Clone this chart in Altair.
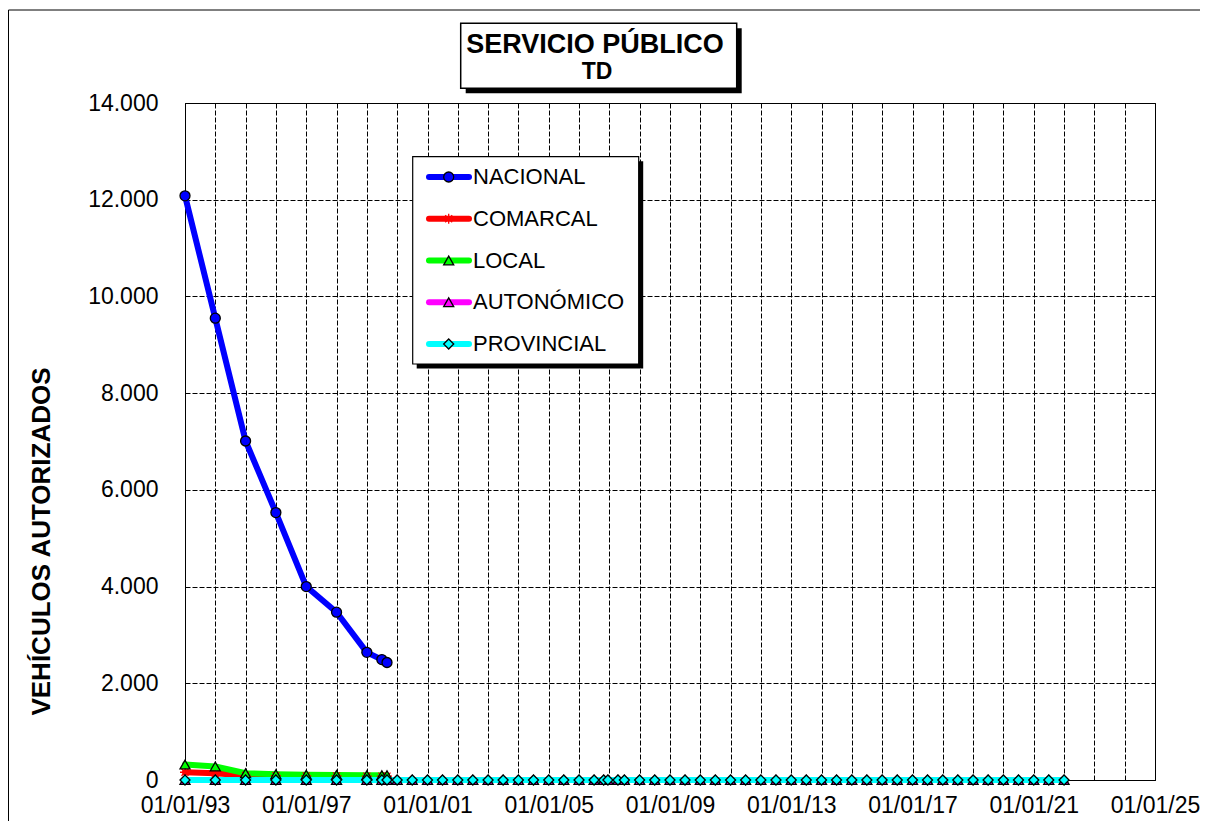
import altair as alt
import pandas as pd

FONT = "Liberation Sans"

series = ["NACIONAL", "COMARCAL", "LOCAL", "AUTONÓMICO", "PROVINCIAL"]
line_colors = ["#0000FF", "#FF0000", "#00FF00", "#FF00FF", "#00FFFF"]
marker_fill = ["#0000FF", "#FF0000", "#00FF00", "#FF00FF", "#00FFFF"]
marker_stroke = ["#000000", "#FF0000", "#000000", "#000000", "#000000"]
asterisk = "M-1,0L1,0M0,-1L0,1M-0.7,-0.7L0.7,0.7M-0.7,0.7L0.7,-0.7"
marker_shapes = ["circle", asterisk, "triangle-up", "triangle-up", "diamond"]

# first block of dates (all five series)
early_dates = ["1993-01-01", "1994-01-01", "1995-01-01", "1996-01-01", "1997-01-01",
               "1998-01-01", "1999-01-01", "1999-07-01", "1999-09-01"]
nacional = [12080, 9550, 7010, 5530, 4000, 3470, 2640, 2490, 2430]
comarcal = [160, 140, 95, 90, 85, 85, 80, 80, 80]
local = [320, 280, 140, 120, 110, 105, 100, 100, 100]

# full date list (AUTONÓMICO and PROVINCIAL continue)
late_dates = [
    "1993-01-01", "1994-01-01", "1995-01-01", "1996-01-01", "1997-01-01",
    "1998-01-01", "1999-01-01", "1999-07-01", "1999-09-01",
    "2000-01-01", "2000-07-01", "2001-01-01", "2001-07-01", "2002-01-01", "2002-07-01",
    "2003-01-01", "2003-07-01", "2004-01-01", "2004-07-01", "2005-01-01", "2005-07-01",
    "2006-01-01", "2006-07-01", "2006-10-25", "2006-12-15", "2007-04-15", "2007-07-01",
    "2008-01-01", "2008-07-01", "2009-01-01", "2009-07-01", "2010-01-01", "2010-07-01",
    "2011-01-01", "2011-07-01", "2012-01-01", "2012-07-01", "2013-01-01", "2013-07-01",
    "2014-01-01", "2014-07-01", "2015-01-01", "2015-07-01", "2016-01-01", "2016-07-01",
    "2017-01-01", "2017-07-01", "2018-01-01", "2018-07-01", "2019-01-01", "2019-07-01",
    "2020-01-01", "2020-07-01", "2021-01-01", "2021-07-01", "2022-01-01",
]
autonomico = [0, 0, 0, 0, 0, 0, 0, 0, 0,
              0, 0, 0, 0, 0, 0, 0, 0, 0, 0, 0, 0, 0, 0, 0, 0, 0, 0,
              0, 0, 0, 0, 0, 0, 0, 0, 0, 0, 0, 0, 0, 0, 0, 0, 0, 0,
              0, 0, 0, 0, 0, 0, 0, 0, 0, 0, 0]
provincial = [0, 0, 0, 0, 0, 0, 0, 0, 0,
              0, 0, 0, 0, 0, 0, 0, 0, 0, 0, 0, 0, 0, 0, 0, 0, 0, 0,
              0, 0, 0, 0, 0, 0, 0, 0, 0, 0, 0, 0, 0, 0, 0, 0, 0, 0,
              0, 0, 0, 0, 0, 0, 0, 0, 0, 0, 0]

tick_years = list(range(1993, 2026))
y_ticks = [0, 2000, 4000, 6000, 8000, 10000, 12000, 14000]

rows = []
for name, dates, vals in [
    ("NACIONAL", early_dates, nacional),
    ("COMARCAL", early_dates, comarcal),
    ("LOCAL", early_dates, local),
    ("AUTONÓMICO", late_dates, autonomico),
    ("PROVINCIAL", late_dates, provincial),
]:
    for d, v in zip(dates, vals):
        rows.append({"series": name, "date": d, "value": v})
df = pd.DataFrame(rows)

x_axis = alt.Axis(
    values=[alt.DateTime(year=y, month=1, date=1, utc=True) for y in tick_years],
    labelExpr="utcyear(datum.value) % 4 == 1 ? utcFormat(datum.value, '%d/%m/%y') : ''",
    labelOverlap=False, labelFlush=False, labelBound=False,
    grid=True, gridColor="#000000", gridDash=[5, 2], gridWidth=1, gridOpacity=1,
    ticks=False, domainColor="#000000", domainWidth=1,
    labelFont=FONT, labelFontSize=23, labelColor="#000000", labelPadding=14,
    title=None,
)
y_axis = alt.Axis(
    values=y_ticks,
    labelExpr="replace(format(datum.value, ','), ',', '.')",
    grid=True, gridColor="#000000", gridDash=[5, 2], gridWidth=1, gridOpacity=1,
    ticks=False, domainColor="#000000", domainWidth=1,
    labelFont=FONT, labelFontSize=23, labelColor="#000000", labelPadding=27,
    title="VEHÍCULOS  AUTORIZADOS", titleFont=FONT, titleFontSize=26, titleFontWeight="bold",
    titleColor="#000000", titleAngle=270, titleAlign="center", titleBaseline="middle",
    titleX=-144, titleY=438,
)

x_enc = alt.X("date:T", axis=x_axis, scale=alt.Scale(
    type="utc",
    domain=[alt.DateTime(year=1993, month=1, date=1, utc=True),
            alt.DateTime(year=2025, month=1, date=1, utc=True)]))
y_enc = alt.Y("value:Q", axis=y_axis, scale=alt.Scale(domain=[0, 14000], nice=False))
color_enc = alt.Color("series:N", scale=alt.Scale(domain=series, range=line_colors), legend=None)
fill_enc = alt.Fill("series:N", scale=alt.Scale(domain=series, range=marker_fill), legend=None)
stroke_enc = alt.Stroke("series:N", scale=alt.Scale(domain=series, range=marker_stroke), legend=None)
shape_enc = alt.Shape("series:N", scale=alt.Scale(domain=series, range=marker_shapes), legend=None)

base = alt.Chart(df)
lines = base.mark_line(strokeWidth=6, strokeCap="round", strokeJoin="round").encode(
    x=x_enc, y=y_enc, color=color_enc)
points = base.mark_point(filled=True, size=100, strokeWidth=1.3, opacity=1).encode(
    x=x_enc, y=y_enc, fill=fill_enc, stroke=stroke_enc, shape=shape_enc)
data_layer = alt.layer(lines, points)

one = pd.DataFrame({"k": [0]})


def box(x1, x2, y1, y2, fill, stroke=None, sw=0):
    kw = dict(fill=fill)
    if stroke:
        kw.update(stroke=stroke, strokeWidth=sw)
    return alt.Chart(one).mark_rect(**kw).encode(
        x=alt.value(x1), x2=alt.value(x2), y=alt.value(y1), y2=alt.value(y2))


frame_left = alt.Chart(one).mark_rule(color="#000000", strokeWidth=1).encode(
    x=alt.value(-176.5), y=alt.value(-93), y2=alt.value(900))
frame_top = alt.Chart(one).mark_rule(color="#000000", strokeWidth=1).encode(
    x=alt.value(-176.5), x2=alt.value(1100), y=alt.value(-93))

leg_df = pd.DataFrame({"series": series})
leg_y = alt.Y("series:N", scale=alt.Scale(type="point", domain=series, range=[74, 241], padding=0),
              axis=None)
leg_base = alt.Chart(leg_df)
leg_shadow = box(231.7, 458.2, 58.2, 265.5, "#000000")
leg_box = box(227.7, 453.7, 53.7, 261, "#FFFFFF", "#000000", 1.2)
leg_rules = leg_base.mark_rule(strokeWidth=6, strokeCap="round").encode(
    x=alt.value(244), x2=alt.value(284), y=leg_y, color=color_enc)
leg_points = leg_base.mark_point(filled=True, size=100, strokeWidth=1.3, opacity=1).encode(
    x=alt.value(263.7), y=leg_y, fill=fill_enc, stroke=stroke_enc, shape=shape_enc)
leg_text = leg_base.mark_text(align="left", baseline="middle", font=FONT, fontSize=22,
                              color="#000000").encode(
    x=alt.value(288), y=leg_y, text="series:N")

title_shadow = box(280.7, 556.7, -74.7, -9.7, "#000000")
title_box = box(275.7, 551.7, -79.7, -14.7, "#FFFFFF", "#000000", 1.5)
title_df = pd.DataFrame({"t": ["SERVICIO PÚBLICO"]})
sub_df = pd.DataFrame({"t": ["TD"]})
title_text = alt.Chart(title_df).mark_text(
    align="center", baseline="alphabetic", font=FONT, fontSize=27, fontWeight="bold",
    color="#000000").encode(x=alt.value(410), y=alt.value(-50), text="t:N")
sub_text = alt.Chart(sub_df).mark_text(
    align="center", baseline="alphabetic", font=FONT, fontSize=23, fontWeight="bold",
    color="#000000").encode(x=alt.value(412), y=alt.value(-24), text="t:N")

chart = alt.layer(
    data_layer, frame_left, frame_top, leg_shadow, leg_box, leg_rules, leg_points, leg_text,
    title_shadow, title_box, title_text, sub_text,
).resolve_scale(y="independent").properties(
    width=970, height=677,
    autosize=alt.AutoSizeParams(type="none"),
    padding={"left": 177, "top": 95, "right": 45, "bottom": 41},
    background="#FFFFFF",
).configure_view(stroke="#000000", strokeWidth=1)

chart.save("out.html", embed_options={"renderer": "svg", "actions": False})
